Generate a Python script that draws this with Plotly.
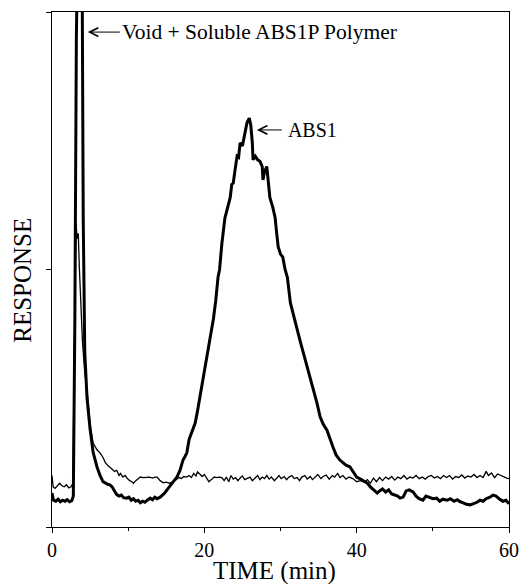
import plotly.graph_objects as go

# ABS1 sample trace (thick)
abs1_time = [0.0, 0.2, 0.5, 0.8, 1.1, 1.4, 1.7, 2.0, 2.3, 2.6, 2.8, 3.0, 3.2, 3.4, 3.7, 3.95, 4.1, 4.3, 4.6,
             5.0, 5.4, 5.9, 6.3, 6.7, 7.0, 7.3, 7.6, 7.9, 8.2, 8.5, 8.8, 9.1, 9.4, 9.8, 10.1, 10.4, 10.7,
             11.0, 11.3, 11.6, 11.9, 12.2, 12.5, 12.9, 13.2, 13.5, 13.8, 14.2, 14.5, 14.8, 15.1, 15.4,
             15.7, 16.0, 16.4, 16.8, 17.2, 17.5, 17.7, 18.0, 18.4, 18.8, 19.1, 19.4, 19.8, 20.3, 20.7,
             21.2, 21.5, 21.8, 22.0, 22.3, 22.7, 23.0, 23.4, 23.6, 23.8, 24.0, 24.3, 24.5, 24.7, 25.0,
             25.3, 25.6, 25.9, 26.1, 26.3, 26.4, 26.7, 27.0, 27.3, 27.6, 27.7, 27.9, 28.2, 28.4, 28.6,
             29.0, 29.3, 29.5, 29.7, 30.0, 30.3, 30.6, 30.9, 31.3, 31.7, 32.2, 32.6, 33.0, 33.5, 33.9,
             34.3, 34.8, 35.2, 35.6, 36.1, 36.5, 36.9, 37.3, 37.8, 38.2, 38.6, 39.1, 39.5, 40.0, 40.4,
             40.8, 41.4, 41.8, 42.2, 42.7, 43.0, 43.4, 43.8, 44.2, 44.6, 45.0, 45.4, 45.7, 46.1, 46.5,
             46.9, 47.4, 47.8, 48.2, 48.7, 49.1, 49.5, 50.0, 50.5, 50.9, 51.3, 51.9, 52.3, 52.8, 53.2,
             53.6, 54.0, 54.4, 54.9, 55.3, 55.8, 56.2, 56.6, 57.0, 57.5, 57.9, 58.3, 58.7, 59.2, 59.6, 60.0]
abs1_resp = [0.066, 0.052, 0.050, 0.054, 0.049, 0.052, 0.050, 0.053, 0.049, 0.051, 0.060, 0.40, 0.95, 1.4, 1.5, 1.1, 0.6, 0.34, 0.25,
             0.19, 0.145, 0.117, 0.10, 0.088, 0.085, 0.083, 0.082, 0.078, 0.070, 0.063, 0.060, 0.062, 0.057, 0.056, 0.058, 0.052, 0.055,
             0.050, 0.052, 0.047, 0.050, 0.048, 0.052, 0.056, 0.053, 0.058, 0.055, 0.058, 0.062, 0.066, 0.072, 0.078,
             0.085, 0.090, 0.097, 0.110, 0.130, 0.138, 0.144, 0.170, 0.188, 0.202, 0.225, 0.250, 0.280, 0.322, 0.360,
             0.405, 0.440, 0.485, 0.500, 0.550, 0.600, 0.615, 0.640, 0.665, 0.668, 0.690, 0.720, 0.718, 0.746, 0.740,
             0.760, 0.785, 0.794, 0.780, 0.746, 0.713, 0.720, 0.713, 0.710, 0.700, 0.674, 0.690, 0.700, 0.670, 0.640,
             0.620, 0.600, 0.570, 0.544, 0.530, 0.524, 0.500, 0.485, 0.435, 0.410, 0.383, 0.360, 0.338, 0.311, 0.290,
             0.272, 0.240, 0.214, 0.200, 0.188, 0.170, 0.155, 0.140, 0.130, 0.125, 0.120, 0.117, 0.108, 0.097, 0.094,
             0.090, 0.085, 0.078, 0.072, 0.066, 0.070, 0.074, 0.068, 0.072, 0.064, 0.062, 0.060, 0.056, 0.058, 0.070,
             0.072, 0.068, 0.060, 0.055, 0.052, 0.060, 0.058, 0.055, 0.056, 0.050, 0.054, 0.052, 0.055, 0.050, 0.053,
             0.049, 0.047, 0.044, 0.043, 0.045, 0.048, 0.052, 0.050, 0.055, 0.058, 0.062, 0.060, 0.055, 0.050, 0.052, 0.045]

# Control trace (thin)
ctrl_time = [0.0, 0.15, 0.4, 0.7, 1.0, 1.3, 1.6, 1.9, 2.2, 2.5, 2.75, 2.9, 3.05, 3.15, 3.3, 3.45, 3.6, 3.8, 4.0, 4.3,
             4.6, 5.0, 5.4, 5.9, 6.3, 6.7, 7.0, 7.3, 7.6, 7.9, 8.2, 8.5, 8.8, 9.0, 9.3, 9.6, 9.9, 10.2, 10.5,
             10.7, 11.0, 11.3, 11.6, 12.0, 12.4, 12.8, 13.2, 13.5, 13.8, 14.2, 14.6, 15.0, 15.4, 15.9, 16.3,
             16.7, 17.0, 17.3, 17.7, 18.0, 18.3, 18.6, 18.9, 19.1, 19.4, 19.7, 20.0, 20.3, 20.6, 21.0, 21.3,
             21.6, 21.9, 22.3, 22.6, 22.9, 23.2, 23.5, 23.8, 24.1, 24.4, 24.7, 25.0, 25.3, 25.7, 26.0, 26.3,
             26.6, 27.0, 27.3, 27.6, 27.9, 28.2, 28.5, 28.8, 29.2, 29.5, 29.8, 30.1, 30.5, 30.8, 31.1, 31.5,
             31.8, 32.2, 32.5, 32.8, 33.2, 33.5, 33.9, 34.2, 34.6, 34.9, 35.3, 35.6, 36.0, 36.4, 36.8, 37.1,
             37.5, 37.8, 38.2, 38.6, 39.0, 39.5, 40.0, 40.5, 41.0, 41.4, 41.8, 42.2, 42.6, 43.0, 43.4, 43.8,
             44.2, 44.6, 45.0, 45.4, 45.8, 46.2, 46.6, 47.0, 47.4, 47.8, 48.2, 48.6, 49.0, 49.4, 49.8, 50.2,
             50.6, 51.0, 51.4, 51.8, 52.2, 52.6, 53.0, 53.4, 53.8, 54.2, 54.6, 55.0, 55.4, 55.8, 56.2, 56.6,
             57.0, 57.3, 57.7, 58.1, 58.5, 58.9, 59.3, 59.7, 60.0]
ctrl_resp = [0.100, 0.078, 0.075, 0.080, 0.085, 0.080, 0.078, 0.082, 0.076, 0.078, 0.085, 0.30, 0.50, 0.59, 0.56, 0.57, 0.50, 0.42, 0.36, 0.30,
             0.266, 0.200, 0.163, 0.150, 0.144, 0.135, 0.125, 0.120, 0.115, 0.112, 0.108, 0.110, 0.100, 0.104, 0.097, 0.100, 0.094, 0.090, 0.088,
             0.085, 0.090, 0.094, 0.097, 0.096, 0.097, 0.097, 0.095, 0.097, 0.097, 0.090, 0.086, 0.087, 0.085, 0.088, 0.092,
             0.096, 0.094, 0.098, 0.097, 0.100, 0.096, 0.104, 0.099, 0.107, 0.103, 0.098, 0.102, 0.096, 0.088, 0.093, 0.097,
             0.096, 0.097, 0.096, 0.090, 0.097, 0.088, 0.100, 0.093, 0.096, 0.090, 0.095, 0.099, 0.092, 0.095, 0.097, 0.090,
             0.094, 0.100, 0.092, 0.097, 0.094, 0.100, 0.093, 0.097, 0.090, 0.096, 0.100, 0.094, 0.098, 0.092, 0.097, 0.100,
             0.094, 0.096, 0.090, 0.097, 0.100, 0.093, 0.098, 0.092, 0.097, 0.102, 0.094, 0.098, 0.101, 0.093, 0.100, 0.097,
             0.104, 0.096, 0.100, 0.093, 0.097, 0.094, 0.088, 0.090, 0.087, 0.092, 0.085, 0.095, 0.088, 0.096, 0.090, 0.097,
             0.093, 0.098, 0.091, 0.097, 0.094, 0.100, 0.093, 0.097, 0.095, 0.100, 0.094, 0.097, 0.093, 0.098, 0.100, 0.095,
             0.098, 0.094, 0.100, 0.096, 0.100, 0.093, 0.098, 0.096, 0.101, 0.095, 0.099, 0.097, 0.102, 0.096, 0.100, 0.096,
             0.108, 0.100, 0.105, 0.096, 0.103, 0.100, 0.098, 0.095, 0.094]

x_ticks = [0, 20, 40, 60]
y_ticks = [0, 0.5, 1]

FONT = "Liberation Serif, Times New Roman, serif"

fig = go.Figure()
fig.add_trace(go.Scatter(x=ctrl_time, y=ctrl_resp, mode="lines",
                         line=dict(color="black", width=1.3), showlegend=False))
fig.add_trace(go.Scatter(x=abs1_time, y=abs1_resp, mode="lines",
                         line=dict(color="black", width=3), showlegend=False))

fig.add_annotation(x=4.7, y=0.961, ax=32, ay=0, text="Void + Soluble ABS1P Polymer",
                   xanchor="left", showarrow=True, arrowhead=5, arrowsize=1.7, arrowwidth=1,
                   arrowcolor="black", font=dict(family=FONT, size=21.5, color="black"))
fig.add_annotation(x=26.9, y=0.771, ax=25, ay=0, text=" ABS1",
                   xanchor="left", showarrow=True, arrowhead=5, arrowsize=1.7, arrowwidth=1,
                   arrowcolor="black", font=dict(family=FONT, size=20, color="black"))

# axis titles
fig.add_annotation(xref="paper", yref="paper", x=0.486, y=-0.0854, text="TIME (min)",
                   showarrow=False, xanchor="center", yanchor="middle",
                   font=dict(family=FONT, size=25, color="black"))
fig.add_annotation(xref="paper", yref="paper", x=-0.0635, y=0.48, text="RESPONSE",
                   showarrow=False, xanchor="center", yanchor="middle", textangle=-90,
                   font=dict(family=FONT, size=25, color="black"))

fig.update_xaxes(range=[0, 60], tickvals=x_ticks, ticktext=[str(v) for v in x_ticks],
                 ticks="outside", ticklen=5, tickwidth=1, tickcolor="black",
                 minor=dict(tickvals=[10, 30, 50], ticks="outside", ticklen=3, tickcolor="black"),
                 showline=True, linecolor="black", linewidth=1.2, mirror=True,
                 showgrid=False, zeroline=False, automargin=False,
                 tickfont=dict(family=FONT, size=20, color="black"))
fig.update_yaxes(range=[0, 1], tickvals=y_ticks, showticklabels=False,
                 ticks="outside", ticklen=5, tickwidth=1, tickcolor="black",
                 showline=True, linecolor="black", linewidth=1.2, mirror=True,
                 showgrid=False, zeroline=False, automargin=False)

fig.update_layout(width=521, height=584, margin=dict(l=52, r=12, t=12, b=57),
                  plot_bgcolor="white", paper_bgcolor="white")

fig.write_html("out.html")
